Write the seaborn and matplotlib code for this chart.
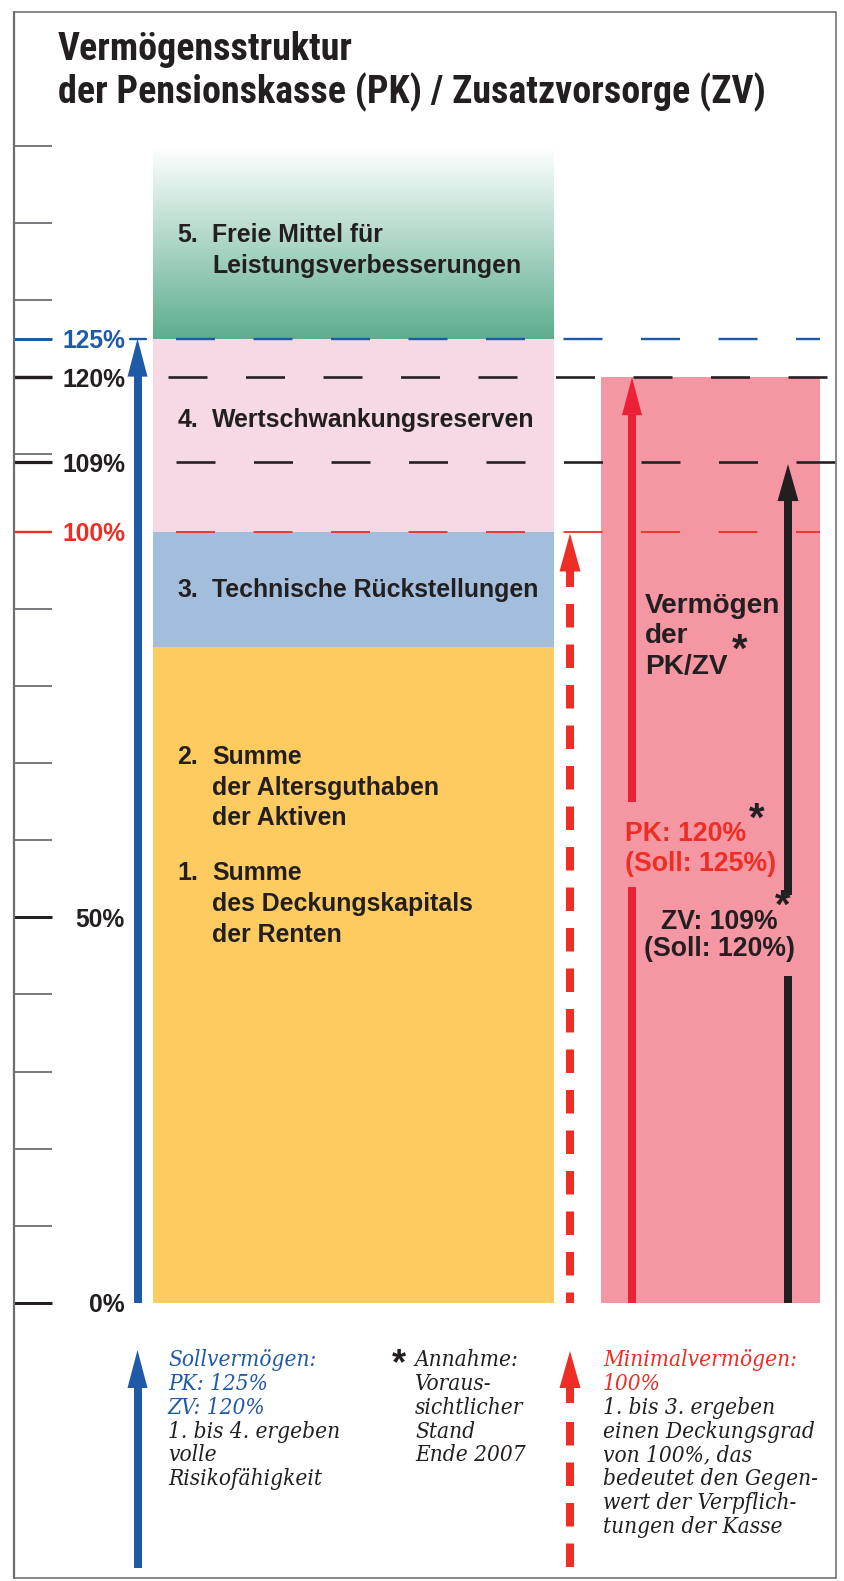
import numpy as np
import matplotlib
matplotlib.use("Agg")
import matplotlib.pyplot as plt
import seaborn as sns
from matplotlib import font_manager
from matplotlib.font_manager import FontProperties
from matplotlib.patches import Polygon, Rectangle
from matplotlib.colors import LinearSegmentedColormap

# ---------------- data ----------------
title_lines = ["Vermögensstruktur", "der Pensionskasse (PK) / Zusatzvorsorge (ZV)"]

layer_names = ["1./2. Deckungskapital + Altersguthaben", "3. Technische Rückstellungen",
               "4. Wertschwankungsreserven", "5. Freie Mittel"]
layer_tops = [85, 100, 125, 150]          # cumulative % of obligations

axis_ticks = list(range(0, 151, 10))
labeled_ticks = [125, 120, 109, 100, 50, 0]
labeled_tick_texts = ["125%", "120%", "109%", "100%", "50%", "0%"]

soll_pk = 125      # Sollvermögen PK
soll_zv = 120      # Sollvermögen ZV
ist_pk = 120       # Vermögen PK (Annahme Ende 2007)
ist_zv = 109       # Vermögen ZV (Annahme Ende 2007)
minimal = 100      # Minimalvermögen

block5 = ["Freie Mittel für", "Leistungsverbesserungen"]
block4 = ["Wertschwankungsreserven"]
block3 = ["Technische Rückstellungen"]
block2 = ["Summe", "der Altersguthaben", "der Aktiven"]
block1 = ["Summe", "des Deckungskapitals", "der Renten"]
right_title = ["Vermögen", "der", "PK/ZV"]
pk_text = [f"PK: {ist_pk}%", f"(Soll: {soll_pk}%)"]
zv_text = [f"ZV: {ist_zv}%", f"(Soll: {soll_zv}%)"]

notes_soll = ["Sollvermögen:", f"PK: {soll_pk}%", f"ZV: {soll_zv}%", "1. bis 4. ergeben", "volle",
              "Risikofähigkeit"]
notes_annahme = ["Annahme:", "Voraus-", "sichtlicher", "Stand", "Ende 2007"]
notes_min = ["Minimalvermögen:", f"{minimal}%", "1. bis 3. ergeben", "einen Deckungsgrad",
             "von 100%, das", "bedeutet den Gegen-", "wert der Verpflich-", "tungen der Kasse"]

# ---------------- style ----------------
C_YELLOW = "#FECB60"
C_BLUEL = "#A3BEDC"
C_PINK = "#F6D9E4"
C_GREEN = "#5DAE8F"
C_REDBAR = "#F497A3"
C_CRIMSON = "#EC2138"
C_RED = "#EE2E24"
C_BLUE = "#1F5AA8"
C_BLACK = "#231F20"
C_GRAY = "#6D6E71"
layer_colors = [C_YELLOW, C_BLUEL, C_PINK, C_GREEN]

sns.set_theme(style="white")
plt.rcParams["lines.scale_dashes"] = False

flist = font_manager.fontManager.ttflist
avail = {f.name for f in flist}
SANS = "Liberation Sans" if "Liberation Sans" in avail else "DejaVu Sans"
SERIF = "Liberation Serif" if "Liberation Serif" in avail else "DejaVu Serif"
plt.rcParams["font.family"] = [SANS, "DejaVu Sans"]


def _is_cond(f):
    s = str(f.stretch).lower()
    fn = f.fname.lower()
    return ("condensed" in s) or ("condensed" in fn) or ("narrow" in fn) or ("narrow" in f.name.lower())


def _is_bold(f):
    w = f.weight
    if isinstance(w, str):
        return w.lower() in ("bold", "heavy", "extra bold", "black", "demibold", "semibold")
    return w >= 600


def _rank(f, prefs):
    for i, p in enumerate(prefs):
        if p.lower() in f.name.lower() or p.lower() in f.fname.lower():
            return i
    return len(prefs)


title_cands = [f for f in flist if _is_cond(f) and _is_bold(f) and f.style == "normal"
               and "serif" not in f.name.lower() and "mono" not in f.name.lower()
               and "semicondensed" not in f.fname.lower()]
title_cands.sort(key=lambda f: _rank(f, ["Liberation Sans Narrow", "Roboto", "Noto Sans", "DejaVu Sans"]))
if title_cands:
    TITLE_FP = FontProperties(fname=title_cands[0].fname)
else:
    TITLE_FP = FontProperties(family=["Roboto", SANS], weight="bold")

serif_cands = [f for f in flist if _is_cond(f) and f.style in ("italic", "oblique")
               and not _is_bold(f) and "serif" in f.name.lower() and "semicondensed" not in f.fname.lower()]
if serif_cands:
    NOTE_FP = FontProperties(fname=serif_cands[0].fname)
else:
    NOTE_FP = FontProperties(family=[SERIF, "DejaVu Serif"], style="italic")

W, H = 844, 1581
fig = plt.figure(figsize=(W / 100, H / 100), dpi=100)
ax = fig.add_axes([0, 0, 1, 1])
PX0 = 1303.0   # pixel row of 0 %
PXU = 7.715    # pixels per percent


def Y(pix):
    return (PX0 - pix) / PXU


def P(val):
    return PX0 - PXU * val


# ---------------- bars (seaborn) ----------------
left_x0, left_x1 = 153, 554
right_x0, right_x1 = 601, 820
lcx, lw_ = (left_x0 + left_x1) / 2, left_x1 - left_x0
rcx, rw_ = (right_x0 + right_x1) / 2, right_x1 - right_x0

for top, col in reversed(list(zip(layer_tops, layer_colors))):
    sns.barplot(x=[lcx], y=[top], native_scale=True, width=lw_, color=col, saturation=1,
                linewidth=0, errorbar=None, orient="x", ax=ax, zorder=1)

# gradient for the green layer
green_cmap = LinearSegmentedColormap.from_list("g", [C_GREEN, "#FFFFFF"])
grad = np.linspace(0, 1, 256).reshape(-1, 1)
ax.imshow(grad, extent=[left_x0, left_x1, layer_tops[2], layer_tops[3]], origin="lower",
          aspect="auto", cmap=green_cmap, zorder=1.5, interpolation="bilinear")

sns.barplot(x=[rcx], y=[ist_pk], native_scale=True, width=rw_, color=C_REDBAR, saturation=1,
            linewidth=0, errorbar=None, orient="x", ax=ax, zorder=1)

# ---------------- frame & left scale ----------------
ax.add_patch(Rectangle((14, Y(1578)), 822, Y(12) - Y(1578), fill=False, edgecolor=C_GRAY,
                       lw=1.6 * 0.72, zorder=6))
ax.plot([14, 14], [Y(1578), Y(12)], color=C_GRAY, lw=2.2 * 0.72, zorder=6)

for v in axis_ticks:
    ax.plot([14, 52], [v, v], color=C_GRAY, lw=1.8 * 0.72, solid_capstyle="butt", zorder=5)
tick_style = {125: (C_BLUE, 3.0), 120: (C_BLACK, 3.4), 109: (C_BLACK, 3.2), 100: (C_RED, 2.4),
              50: (C_BLACK, 3.0), 0: (C_BLACK, 3.0)}
tick_text_objs = []
for v, s in zip(labeled_ticks, labeled_tick_texts):
    c, lw = tick_style[v]
    ax.plot([14, 52], [v, v], color=c, lw=lw * 0.72, solid_capstyle="butt", zorder=5)
    t = ax.text(125, Y(P(v) + 9.5), s, ha="right", va="baseline", color=c, fontsize=15,
                fontweight="bold", family=[SANS, "DejaVu Sans"], zorder=7)
    tick_text_objs.append(t)


# ---------------- dashed reference lines ----------------
def dashed(val, x0, x1, color, lw_px):
    ax.plot([x0, x1], [val, val], color=color, lw=lw_px * 0.72,
            dashes=(39 * 0.72, 38.5 * 0.72), dash_capstyle="butt", zorder=3)


dashed(soll_pk, 176, 820, C_BLUE, 2.4)
ax.plot([130, 146], [soll_pk, soll_pk], color=C_BLUE, lw=2.4 * 0.72, zorder=4)
dashed(ist_pk, 168, 828, C_BLACK, 2.6)
dashed(ist_zv, 176, 836, C_BLACK, 2.6)
dashed(minimal, 176, 820, C_RED, 1.8)


# ---------------- arrows ----------------
def head(x, tip_pix, color, length=37, width=21, z=4):
    pts = [(x, Y(tip_pix)), (x - width / 2, Y(tip_pix + length)), (x + width / 2, Y(tip_pix + length))]
    ax.add_patch(Polygon(pts, closed=True, facecolor=color, edgecolor="none", zorder=z))


def shaft(x, p0, p1, color, lw_px=8, dashes=None, z=4):
    kw = dict(color=color, lw=lw_px * 0.72, solid_capstyle="butt", dash_capstyle="butt", zorder=z)
    if dashes:
        kw["dashes"] = dashes
    ax.plot([x, x], [Y(p0), Y(p1)], **kw)


DASH_ARROW = (23.5 * 0.72, 17 * 0.72)

# blue: Sollvermögen 125 %
head(137.5, P(soll_pk), C_BLUE, length=38, width=20)
shaft(137.5, P(soll_pk) + 30, P(0), C_BLUE)
# red dashed: Minimalvermögen 100 %
head(570, P(minimal) + 2, C_RED, length=38, width=21)
shaft(570, P(minimal) + 30, 587, C_RED)
shaft(570, 604, P(0), C_RED, dashes=DASH_ARROW)
# crimson: PK 120 %
head(632, P(ist_pk), C_CRIMSON, length=38, width=20)
shaft(632, P(ist_pk) + 30, 802, C_CRIMSON)
shaft(632, 887, P(0), C_CRIMSON)
# black: ZV 109 %
head(788, P(ist_zv) + 2, C_BLACK, length=37, width=21)
shaft(788, P(ist_zv) + 30, 895, C_BLACK)
shaft(788, 976, P(0), C_BLACK)

# legend arrows at the bottom
head(137.5, 1350, C_BLUE, length=38, width=20)
shaft(137.5, 1380, 1568, C_BLUE)
head(570, 1351, C_RED, length=37, width=21)
shaft(570, 1380, 1403, C_RED)
shaft(570, 1422, 1568, C_RED, dashes=DASH_ARROW)

# ---------------- texts ----------------
renderer = fig.canvas.get_renderer()


def fit_size(text, width_px, fp=None, **kw):
    if fp is not None:
        fp = fp.copy()
        fp.set_size(20)
        t = ax.text(0, 0, text, fontproperties=fp)
    else:
        t = ax.text(0, 0, text, fontsize=20, **kw)
    w = t.get_window_extent(renderer).width
    t.remove()
    return 20 * width_px / w


def fp_sized(fp, size):
    f = fp.copy()
    f.set_size(size)
    return f


# title
fs_title = fit_size(title_lines[1], 706, fp=TITLE_FP)
for line, base in zip(title_lines, [60, 103]):
    ax.text(57.5, Y(base), line, fontproperties=fp_sized(TITLE_FP, fs_title), color=C_BLACK,
            ha="left", va="baseline", zorder=7)

# tick label size
fs_tick = fit_size("120%", 63, fontweight="bold", family=[SANS, "DejaVu Sans"])
for t in tick_text_objs:
    t.set_fontsize(fs_tick)

# layer labels
fs_lab = fit_size("Technische Rückstellungen", 327, fontweight="bold", family=[SANS, "DejaVu Sans"])


def block(num, lines, bases, xnum=177.5, xtxt=212):
    ax.text(xnum, Y(bases[0]), num, fontsize=fs_lab, fontweight="bold", color=C_BLACK,
            ha="left", va="baseline", zorder=7)
    for line, b in zip(lines, bases):
        ax.text(xtxt, Y(b), line, fontsize=fs_lab, fontweight="bold", color=C_BLACK,
                ha="left", va="baseline", zorder=7)


block("5.", block5, [241.5, 272.5])
block("4.", block4, [427])
block("3.", block3, [597])
block("2.", block2, [764, 794.5, 825])
block("1.", block1, [880, 910.5, 941.5])

# right bar labels
fs_r = fit_size("(Soll: 125%)", 151, fontweight="bold", family=[SANS, "DejaVu Sans"])
for line, b in zip(right_title, [613, 643, 674]):
    ax.text(645, Y(b), line, fontsize=fs_r * 1.05, fontweight="bold", color=C_BLACK, ha="left",
            va="baseline", zorder=7)
ax.text(740, Y(662), "*", fontsize=fs_r * 1.5, fontweight="bold", color=C_BLACK, ha="center",
        va="baseline", zorder=7)
for line, b in zip(pk_text, [841, 871]):
    ax.text(625, Y(b), line, fontsize=fs_r, fontweight="bold", color=C_RED, ha="left",
            va="baseline", zorder=7)
ax.text(757, Y(831), "*", fontsize=fs_r * 1.5, fontweight="bold", color=C_BLACK, ha="center",
        va="baseline", zorder=7)
ax.text(719, Y(929), zv_text[0], fontsize=fs_r, fontweight="bold", color=C_BLACK, ha="center",
        va="baseline", zorder=7)
ax.text(719, Y(956), zv_text[1], fontsize=fs_r, fontweight="bold", color=C_BLACK, ha="center",
        va="baseline", zorder=7)
ax.text(783, Y(918), "*", fontsize=fs_r * 1.5, fontweight="bold", color=C_BLACK, ha="center",
        va="baseline", zorder=7)

# bottom notes (italic serif)
fs_note = fit_size("einen Deckungsgrad", 212, fp=NOTE_FP)
NFP = fp_sized(NOTE_FP, fs_note)
bases = [1366, 1390, 1414, 1438, 1461, 1485, 1509, 1533]
for i, line in enumerate(notes_soll):
    ax.text(168, Y(bases[i]), line, fontproperties=NFP,
            color=C_BLUE if i < 3 else C_BLACK, ha="left", va="baseline", zorder=7)
for i, line in enumerate(notes_annahme):
    ax.text(415, Y(bases[i]), line, fontproperties=NFP, color=C_BLACK,
            ha="left", va="baseline", zorder=7)
ax.text(399, Y(1374), "*", fontsize=fs_note * 1.6, fontweight="bold", color=C_BLACK,
        family=[SANS, "DejaVu Sans"], ha="center", va="baseline", zorder=7)
for i, line in enumerate(notes_min):
    ax.text(603, Y(bases[i]), line, fontproperties=NFP,
            color=C_RED if i < 2 else C_BLACK, ha="left", va="baseline", zorder=7)

ax.set_xlim(0, W)
ax.set_ylim(Y(H), Y(0))
ax.axis("off")
fig.savefig("out.png", dpi=100, facecolor="white")
